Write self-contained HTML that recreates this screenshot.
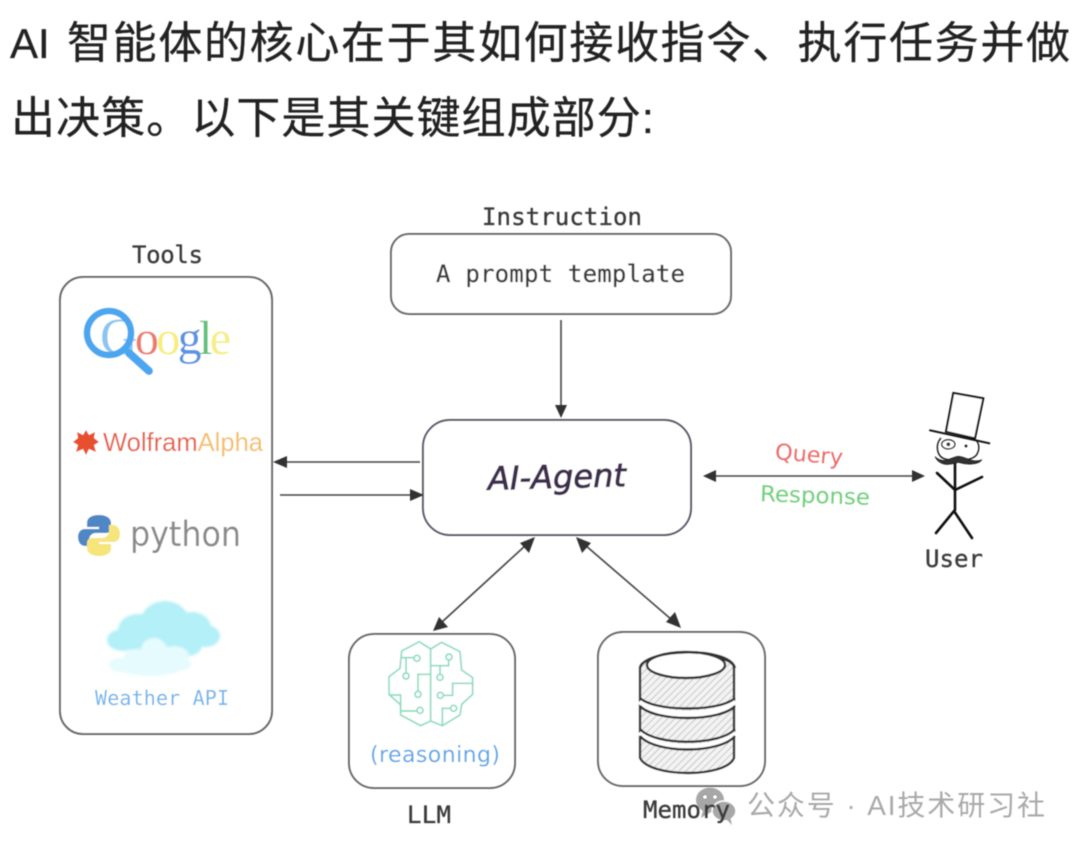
<!DOCTYPE html>
<html lang="zh">
<head>
<meta charset="utf-8">
<title>AI Agent</title>
<style>
html,body{margin:0;padding:0;background:#fff;width:1080px;height:848px;overflow:hidden}
svg{display:block}
.cjk{font-family:"Liberation Sans","Noto Sans CJK SC",sans-serif}
.mono{font-family:"DejaVu Sans Mono","Liberation Mono",monospace;font-size:24px;fill:#3a3a3a;stroke:#3a3a3a;stroke-width:.35}
.hand{font-family:"DejaVu Sans","Liberation Sans",sans-serif}
</style>
</head>
<body>
<svg xmlns="http://www.w3.org/2000/svg" width="1080" height="848" viewBox="0 0 1080 848">
<defs>
<filter id="b" x="-5%" y="-5%" width="110%" height="110%"><feGaussianBlur stdDeviation="0.55"/></filter>
<filter id="c" x="-10%" y="-10%" width="120%" height="120%"><feGaussianBlur stdDeviation="1.2"/></filter>
<pattern id="h" width="5" height="5" patternUnits="userSpaceOnUse" patternTransform="rotate(45)">
<rect width="5" height="5" fill="#f3f3f3"/><line x1="0" y1="0" x2="0" y2="5" stroke="#999" stroke-width="1"/>
</pattern>
</defs>

<g class="cjk" font-size="44" fill="#222" stroke="#222" stroke-width=".3" filter="url(#b)">
<text x="10" y="58" font-size="42">AI</text>
<text x="67" y="58" textLength="1003" lengthAdjust="spacing">智能体的核心在于其如何接收指令、执行任务并做</text>
<text x="11" y="133" textLength="643" lengthAdjust="spacing">出决策。以下是其关键组成部分:</text>
</g>

<g filter="url(#b)">
<!-- boxes -->
<g fill="#fff" stroke="#666" stroke-width="2">
<rect x="60" y="277" width="212" height="457" rx="23"/>
<rect x="391" y="234" width="340" height="80" rx="18"/>
<rect x="423" y="420" width="268" height="115" rx="27" stroke="#5b5268"/>
<rect x="349" y="634" width="166" height="154" rx="25"/>
<rect x="598" y="632" width="167" height="154" rx="25"/>
</g>

<!-- labels -->
<g class="mono">
<text x="482" y="225" textLength="160">Instruction</text>
<text x="436" y="282" textLength="249">A prompt template</text>
<text x="132" y="263" textLength="71">Tools</text>
<text x="925" y="567" textLength="58">User</text>
<text x="407" y="823" textLength="44">LLM</text>
<text x="95" y="705" textLength="134" style="font-size:20px;fill:#72b5ec;stroke:none">Weather API</text>
</g>

<!-- connectors -->
<g stroke="#444" stroke-width="1.6" fill="none">
<line x1="561" y1="320" x2="561" y2="406"/>
<line x1="420" y1="462" x2="286" y2="462"/>
<line x1="280" y1="495" x2="412" y2="495"/>
<line x1="715" y1="476" x2="914" y2="476"/>
<line x1="442" y1="622" x2="526" y2="545"/>
<line x1="585" y1="545" x2="672" y2="620"/>
</g>
<g fill="#333">
<polygon points="561,418 555,405 567,405"/>
<polygon points="273,462 287,456 287,468"/>
<polygon points="424,495 410,489 410,501"/>
<polygon points="703,476 716,470 716,482"/>
<polygon points="925,476 912,470 912,482"/>
<polygon points="433,631 439,617 448,627"/>
<polygon points="535,537 520,543 529,553"/>
<polygon points="576,537 591,543 582,553"/>
<polygon points="681,628 666,622 675,612"/>
</g>

<!-- center hand labels -->
<text class="hand" x="488" y="488" font-size="32" font-style="italic" fill="#3e2d4d" stroke="#3e2d4d" stroke-width=".9" textLength="138" lengthAdjust="spacingAndGlyphs" transform="rotate(-1.5 557 478)">AI-Agent</text>
<text class="hand" x="775" y="462" font-size="22" fill="#ef6b6b" textLength="68" lengthAdjust="spacingAndGlyphs" transform="rotate(5 809 455)">Query</text>
<text class="hand" x="760" y="503" font-size="22" fill="#72cf7d" textLength="110" lengthAdjust="spacingAndGlyphs" transform="rotate(2 815 497)">Response</text>
<text class="hand" x="370" y="762" font-size="22" fill="#5ba7e8" textLength="130" lengthAdjust="spacing">(reasoning)</text>

<!-- Google -->
<text x="100" y="354" font-family="Liberation Serif,serif" font-size="48" textLength="131" lengthAdjust="spacing"><tspan fill="#8cc6f0" font-size="52">G</tspan><tspan fill="#ee7a6c">o</tspan><tspan fill="#f7ee7e">o</tspan><tspan fill="#5b93e2">g</tspan><tspan fill="#62c07a">l</tspan><tspan fill="#f6ef86">e</tspan></text>
<circle cx="109" cy="333" r="22" fill="none" stroke="#4ba6f0" stroke-width="6.5"/>
<line x1="129" y1="353" x2="149" y2="371" stroke="#4ba6f0" stroke-width="8" stroke-linecap="round"/>

<!-- Wolfram -->
<polygon points="86,430 89,435 95,432 94,438 99,442 94,445 96,452 89,449 86,455 83,449 76,452 78,445 73,442 78,438 77,432 83,435" fill="#e8502f"/>
<text x="103" y="451" font-family="Liberation Sans,sans-serif" font-size="26" textLength="160" lengthAdjust="spacingAndGlyphs"><tspan fill="#e8604a">Wolfram</tspan><tspan fill="#f6bf6a">Alpha</tspan></text>

<!-- Python -->
<path d="M99 515c-8 0-12 3-12 8v4h12v2H85c-5 0-7 4-7 8s2 9 7 9h4v-6c0-4 3-7 7-7h10c3 0 5-2 5-5v-5c0-5-5-8-12-8z" fill="#4f86c6"/>
<path d="M99 556c8 0 12-3 12-8v-4H99v-2h14c5 0 7-4 7-8s-2-9-7-9h-4v6c0 4-3 7-7 7H92c-3 0-5 2-5 5v5c0 5 5 8 12 8z" fill="#f6e57a"/>
<text x="130" y="546" font-family="DejaVu Sans,sans-serif" font-size="35" fill="#8a8a8a" textLength="111" lengthAdjust="spacingAndGlyphs">python</text>

<!-- Cloud -->
<g filter="url(#c)">
<g fill="#b4f0f8">
<ellipse cx="165" cy="624" rx="25" ry="23"/>
<ellipse cx="138" cy="630" rx="20" ry="16"/>
<ellipse cx="192" cy="628" rx="19" ry="16"/>
<ellipse cx="123" cy="640" rx="16" ry="11"/>
<ellipse cx="206" cy="636" rx="14" ry="11"/>
<rect x="125" y="625" width="80" height="26" rx="12"/>
<ellipse cx="187" cy="648" rx="14" ry="8"/>
</g>
<g fill="#e6fbfd">
<ellipse cx="154" cy="650" rx="13" ry="12"/>
<ellipse cx="137" cy="659" rx="14" ry="10"/>
<ellipse cx="174" cy="656" rx="15" ry="10"/>
<ellipse cx="150" cy="665" rx="35" ry="11"/>
<ellipse cx="120" cy="665" rx="11" ry="7"/>
<ellipse cx="182" cy="664" rx="9" ry="6"/>
</g>
</g>

<!-- Brain -->
<g transform="translate(380 635) scale(.3333)" fill="none" stroke="#8edcc0" stroke-width="5">
<path d="M152 42 L118 20 L65 48 L60 100 L27 125 L27 178 L62 210 L62 240 L122 272 L152 258 L152 42 L185 22 L240 50 L245 105 L278 128 L278 178 L245 208 L240 240 L187 272 L152 258"/>
<path d="M62 68 H102"/><circle cx="111" cy="70" r="9"/>
<path d="M78 68 V114"/><circle cx="78" cy="123" r="9"/>
<path d="M152 118 H114 V170"/><circle cx="114" cy="178" r="9"/>
<path d="M30 180 H62 V228 H110"/><circle cx="120" cy="226" r="9"/>
<path d="M152 92 H206 V76"/><circle cx="207" cy="66" r="9"/>
<path d="M180 92 V118"/><circle cx="180" cy="127" r="9"/>
<path d="M190 181 H218 V145 H278"/><circle cx="181" cy="181" r="9"/>
<path d="M187 270 V220 H212"/><circle cx="221" cy="220" r="9"/>
</g>

<!-- Database -->
<g stroke="#333" stroke-width="2.4">
<path d="M640 668 C640 650 734 650 734 668 V702 C734 720 640 720 640 702 Z" fill="url(#h)"/>
<path d="M640 702 V732 C640 752 734 752 734 732 V702" fill="url(#h)"/>
<path d="M640 732 V758 C650 778 726 778 734 758 V732" fill="url(#h)"/>
<path d="M640 701 C655 718 720 718 735 701" fill="none" stroke="#fff" stroke-width="6"/>
<path d="M640 698 C655 712 720 712 735 698" fill="none"/>
<path d="M640 706 C655 722 720 722 735 706" fill="none"/>
<path d="M640 732 C655 752 720 752 735 732" fill="none" stroke="#fff" stroke-width="6"/>
<path d="M640 729 C655 746 720 746 735 729" fill="none"/>
<path d="M640 736 C655 754 720 754 735 736" fill="none"/>
<ellipse cx="686" cy="665" rx="39" ry="13" fill="#fff"/>
<path d="M640 668 C644 648 730 646 735 668" fill="none"/>
</g>

<!-- User -->
<g transform="translate(920 385) scale(.3333)" fill="none" stroke="#111" stroke-linecap="round">
<path d="M100 24 L190 40 L165 160 L78 140 Z" fill="#fff" stroke-width="6"/>
<path d="M30 136 L208 175" stroke-width="6"/>
<path d="M62 160 C45 180 50 215 75 222 C110 232 150 228 168 212 C180 195 178 178 170 168" stroke-width="4"/>
<ellipse cx="85" cy="178" rx="20" ry="14" stroke-width="3"/>
<circle cx="85" cy="178" r="5" fill="#333" stroke="none"/>
<circle cx="138" cy="183" r="4" fill="#111" stroke="none"/>
<path d="M45 215 C70 240 95 215 115 214 C135 214 155 235 185 225 C175 240 140 240 115 232 C90 240 60 245 45 215 Z" fill="#333" stroke-width="2"/>
</g>
<g fill="none" stroke="#111" stroke-width="2.6" stroke-linecap="round">
<path d="M955 464 V510"/>
<path d="M937 473 L955 490 L982 477"/>
<path d="M936 533 L954 511 L972 538"/>
</g>
</g>

<!-- Watermark -->
<g fill="#9e9e9e" opacity=".9" filter="url(#b)">
<ellipse cx="710" cy="800" rx="14" ry="12.5"/>
<polygon points="703,810 701,818 711,812"/>
<ellipse cx="724" cy="811" rx="12" ry="10" stroke="#fff" stroke-width="1.5"/>
<polygon points="726,819 732,825 730,816"/>
</g>
<g fill="#fff"><circle cx="705" cy="797" r="1.8"/><circle cx="715" cy="797" r="1.8"/></g>
<text class="cjk" x="747" y="815" font-size="28" fill="#a9a9a9" textLength="298" lengthAdjust="spacing" filter="url(#b)">公众号 · AI技术研习社</text>
<!-- Memory label sits above the watermark -->
<text class="mono" x="643" y="818" textLength="87" filter="url(#b)">Memory</text>
</svg>
</body>
</html>
